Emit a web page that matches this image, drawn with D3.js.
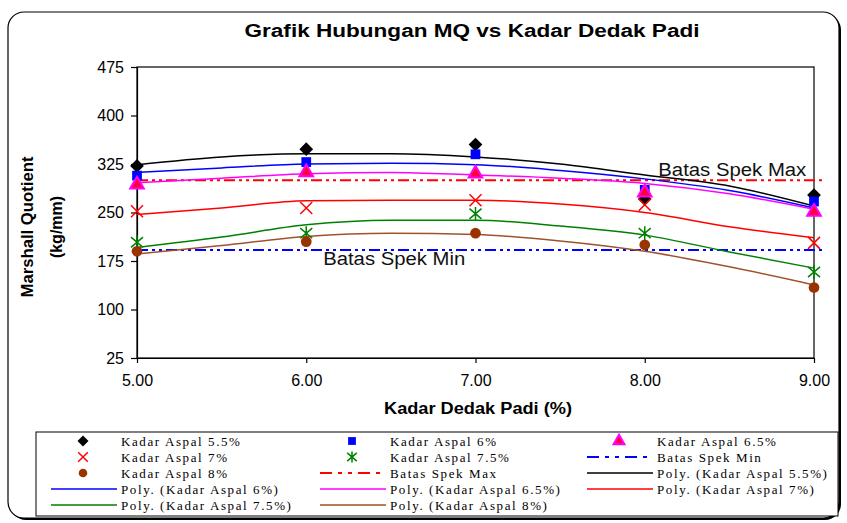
<!DOCTYPE html>
<html>
<head>
<meta charset="utf-8">
<script src="https://cdn.jsdelivr.net/npm/d3@7"></script>
<style>
    body { margin: 0; background: #fff; }
    svg { display: block; }
    .tick text { font-family: "Liberation Sans", Arial, sans-serif; font-size: 16px; fill: #000; }
    .tick line, .domain { stroke: #000; stroke-width: 1.2; }
</style>
</head>
<body>
<script>
// measured points (Kadar Dedak Padi %)
const kadarDedak = [5, 6, 7, 8, 9];
const aspal55 = [322, 348, 355, 271, 277];
const aspal6 = [307, 328, 340, 285, 267];
const aspal65 = [293, 312, 310, 281, 251];
const aspal7 = [252, 257, 269, 262, 203];
const aspal75 = [204, 218, 248, 218, 158];
const aspal8 = [190, 205, 218, 200, 134];

// polynomial trendlines
const trendX = [5, 5.5, 6, 6.5, 7, 7.5, 8, 8.5, 9];
const poly55 = [324, 336, 341, 341, 336, 325, 308, 291, 260];
const poly6 = [312, 319, 325, 326, 324, 315, 302, 284, 257];
const poly65 = [296, 303, 310, 312, 308, 303, 295, 279, 255];
const poly7 = [247, 257, 268, 269, 269, 263, 250, 228, 211];
const poly75 = [196, 212, 231, 238, 238, 229, 215, 189, 164];
const poly8 = [186, 199, 213, 218, 216, 206, 190, 166, 138];

const spekMax = 300;
const spekMin = 192;

const xTicks = [5, 6, 7, 8, 9];
const yTicks = [25, 100, 175, 250, 325, 400, 475];

run();

function run() {
    let width = 847, height = 523;
    let svg = d3.select("body").append("svg")
        .attr("width", width)
        .attr("height", height);

    // chart frame with shadow
    svg.append("rect")
        .attr("x", 10).attr("y", 14).attr("width", 831).attr("height", 506)
        .attr("rx", 16).attr("fill", "#000");
    svg.append("rect")
        .attr("x", 8).attr("y", 12).attr("width", 831).attr("height", 506)
        .attr("rx", 16).attr("fill", "#fff").attr("stroke", "#000").attr("stroke-width", 1.2);

    let x = d3.scaleLinear().domain([5, 9]).range([137, 814]);
    let y = d3.scaleLinear().domain([25, 475]).range([358, 67]);

    // title
    svg.append("text")
        .attr("x", 472).attr("y", 37)
        .attr("text-anchor", "middle")
        .attr("font-family", "Liberation Sans, Arial, sans-serif")
        .attr("font-weight", "bold").attr("font-size", 18)
        .attr("textLength", 455).attr("lengthAdjust", "spacingAndGlyphs")
        .text("Grafik Hubungan MQ vs Kadar Dedak Padi");

    // plot area box
    svg.append("rect")
        .attr("x", x(5)).attr("y", y(475))
        .attr("width", x(9) - x(5)).attr("height", y(25) - y(475))
        .attr("fill", "none").attr("stroke", "#000").attr("stroke-width", 1.2);

    svg.append("g")
        .attr("transform", "translate(0," + y(25) + ")")
        .call(d3.axisBottom(x).tickValues(xTicks).tickFormat(d3.format(".2f"))
            .tickSize(5).tickSizeOuter(0).tickPadding(12));

    svg.append("g")
        .attr("transform", "translate(" + x(5) + ",0)")
        .call(d3.axisLeft(y).tickValues(yTicks).tickFormat(d3.format("d"))
            .tickSize(6).tickSizeOuter(0).tickPadding(7));

    // axis titles
    svg.append("text")
        .attr("x", 478).attr("y", 414)
        .attr("text-anchor", "middle")
        .attr("font-family", "Liberation Sans, Arial, sans-serif")
        .attr("font-weight", "bold").attr("font-size", 16)
        .attr("textLength", 188).attr("lengthAdjust", "spacingAndGlyphs")
        .text("Kadar Dedak Padi (%)");

    let yt = svg.append("text")
        .attr("transform", "translate(0,227) rotate(-90)")
        .attr("text-anchor", "middle")
        .attr("font-family", "Liberation Sans, Arial, sans-serif")
        .attr("font-weight", "bold").attr("font-size", 16);
    yt.append("tspan").attr("x", 0).attr("y", 33)
        .attr("textLength", 141).attr("lengthAdjust", "spacingAndGlyphs")
        .text("Marshall Quotient");
    yt.append("tspan").attr("x", 0).attr("y", 62).text("(kg/mm)");

    // spec limits
    let spekDash = "11,4,3,4,3,4";
    svg.append("line")
        .attr("x1", x(5)).attr("x2", x(9.05))
        .attr("y1", y(spekMax)).attr("y2", y(spekMax))
        .attr("stroke", "#ff0000").attr("stroke-width", 2)
        .attr("stroke-dasharray", spekDash);
    svg.append("line")
        .attr("x1", x(5)).attr("x2", x(9.05))
        .attr("y1", y(spekMin)).attr("y2", y(spekMin))
        .attr("stroke", "#0000ff").attr("stroke-width", 2)
        .attr("stroke-dasharray", spekDash);

    svg.append("text")
        .attr("x", x(8.08)).attr("y", y(spekMax) - 4)
        .attr("font-family", "Liberation Sans, Arial, sans-serif")
        .attr("font-size", 18).attr("fill", "#111")
        .attr("textLength", 148).attr("lengthAdjust", "spacingAndGlyphs")
        .text("Batas Spek Max");
    svg.append("text")
        .attr("x", x(6.1)).attr("y", y(spekMin) + 15)
        .attr("font-family", "Liberation Sans, Arial, sans-serif")
        .attr("font-size", 18).attr("fill", "#111")
        .attr("textLength", 142).attr("lengthAdjust", "spacingAndGlyphs")
        .text("Batas Spek Min");

    let series = [
        { name: "Kadar Aspal 5.5%", values: aspal55, poly: poly55, color: "#000000", sym: "diamond" },
        { name: "Kadar Aspal 6%", values: aspal6, poly: poly6, color: "#0000ff", sym: "square" },
        { name: "Kadar Aspal 6.5%", values: aspal65, poly: poly65, color: "#ff00ff", sym: "triangle" },
        { name: "Kadar Aspal 7%", values: aspal7, poly: poly7, color: "#ff0000", sym: "x" },
        { name: "Kadar Aspal 7.5%", values: aspal75, poly: poly75, color: "#008000", sym: "star" },
        { name: "Kadar Aspal 8%", values: aspal8, poly: poly8, color: "#993300", sym: "circle" }
    ];

    let line = d3.line()
        .x(function (d) { return x(d[0]); })
        .y(function (d) { return y(d[1]); })
        .curve(d3.curveMonotoneX);

    series.forEach(function (s) {
        svg.append("path")
            .attr("d", line(trendX.map(function (t, i) { return [t, s.poly[i]]; })))
            .attr("fill", "none")
            .attr("stroke", s.color === "#993300" ? "#a0522d" : s.color)
            .attr("stroke-width", 1.5);
    });

    series.forEach(function (s) {
        s.values.forEach(function (v, i) {
            drawMarker(svg, s.sym, s.color, x(kadarDedak[i]), y(v), 1);
        });
    });

    // legend
    svg.append("rect")
        .attr("x", 36).attr("y", 432).attr("width", 802).attr("height", 84)
        .attr("fill", "#fff").attr("stroke", "#000").attr("stroke-width", 1);

    let legendItems = [
        { label: series[0].name, sym: "diamond", color: series[0].color },
        { label: series[1].name, sym: "square", color: series[1].color },
        { label: series[2].name, sym: "triangle", color: series[2].color },
        { label: series[3].name, sym: "x", color: series[3].color },
        { label: series[4].name, sym: "star", color: series[4].color },
        { label: "Batas Spek Min", dash: true, color: "#0000ff" },
        { label: series[5].name, sym: "circle", color: series[5].color },
        { label: "Batas Spek Max", dash: true, color: "#ff0000" },
        { label: "Poly. (Kadar Aspal 5.5%)", line: true, color: "#000000" },
        { label: "Poly. (Kadar Aspal 6%)", line: true, color: "#0000ff" },
        { label: "Poly. (Kadar Aspal 6.5%)", line: true, color: "#ff00ff" },
        { label: "Poly. (Kadar Aspal 7%)", line: true, color: "#ff0000" },
        { label: "Poly. (Kadar Aspal 7.5%)", line: true, color: "#008000" },
        { label: "Poly. (Kadar Aspal 8%)", line: true, color: "#a0522d" }
    ];
    let colX = [51, 320, 587];
    let rowY = [441, 457, 473, 489, 505];

    legendItems.forEach(function (d, i) {
        let cx = colX[i % 3];
        let cy = rowY[Math.floor(i / 3)];
        if (d.line) {
            svg.append("line").attr("x1", cx).attr("x2", cx + 66)
                .attr("y1", cy).attr("y2", cy)
                .attr("stroke", d.color).attr("stroke-width", 1.5);
        } else if (d.dash) {
            svg.append("line").attr("x1", cx).attr("x2", cx + 63)
                .attr("y1", cy).attr("y2", cy)
                .attr("stroke", d.color).attr("stroke-width", 2)
                .attr("stroke-dasharray", "12,6,4,6,4,6");
        } else {
            drawMarker(svg, d.sym, d.color, cx + 32, cy, 0.8);
        }
        svg.append("text")
            .attr("x", cx + 70).attr("y", cy + 4.5)
            .attr("font-family", "Liberation Serif, Times New Roman, serif")
            .attr("font-size", 13).attr("letter-spacing", 1.6)
            .text(d.label);
    });
}

function drawMarker(g, type, color, cx, cy, k) {
    if (type === "x") {
        let r = 6 * k;
        g.append("path")
            .attr("d", "M" + (cx - r) + "," + (cy - r) + "L" + (cx + r) + "," + (cy + r)
                + "M" + (cx - r) + "," + (cy + r) + "L" + (cx + r) + "," + (cy - r))
            .attr("stroke", color).attr("stroke-width", 1.5).attr("fill", "none");
        return;
    }
    if (type === "star") {
        let r = 6 * k;
        g.append("path")
            .attr("d", "M" + (cx - r) + "," + (cy - r * 0.85) + "L" + (cx + r) + "," + (cy + r * 0.85)
                + "M" + (cx - r) + "," + (cy + r * 0.85) + "L" + (cx + r) + "," + (cy - r * 0.85)
                + "M" + cx + "," + (cy - r * 1.15) + "L" + cx + "," + (cy + r * 1.15))
            .attr("stroke", color).attr("stroke-width", 1.5).attr("fill", "none");
        return;
    }
    let symbols = {
        diamond: [d3.symbolDiamond2, 120],
        square: [d3.symbolSquare, 95],
        triangle: [d3.symbolTriangle, 80],
        circle: [d3.symbolCircle, 90]
    };
    let s = symbols[type];
    let p = g.append("path")
        .attr("d", d3.symbol().type(s[0]).size(s[1] * k * k)())
        .attr("transform", "translate(" + cx + "," + cy + ")")
        .attr("fill", color);
    if (type === "triangle") {
        p.attr("fill", "#ff0033").attr("stroke", color).attr("stroke-width", 2);
    }
}
</script>
</body>
</html>
